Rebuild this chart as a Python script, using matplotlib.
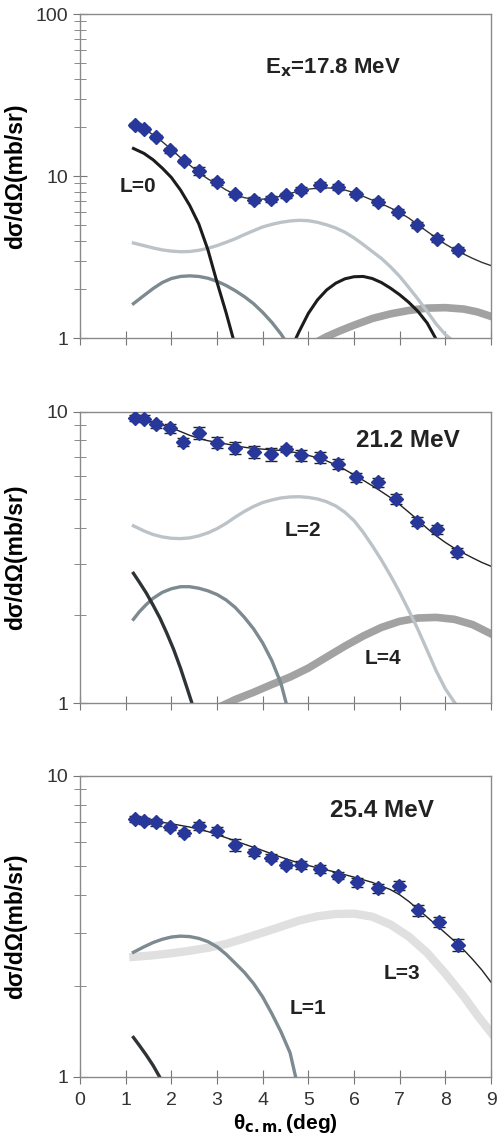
import matplotlib.pyplot as plt
from matplotlib.ticker import NullFormatter

plt.rcParams['font.family'] = ['Liberation Sans', 'DejaVu Sans']

# ---- panel 1: Ex = 17.8 MeV ----
p1_theta = [1.20, 1.40, 1.66, 1.97, 2.28, 2.61, 3.01, 3.40, 3.80, 4.19,
            4.50, 4.84, 5.26, 5.66, 6.04, 6.52, 6.96, 7.37, 7.81, 8.27]
p1_xs = [20.6, 19.6, 17.5, 14.4, 12.4, 10.8, 9.2, 7.7, 7.1, 7.26,
         7.6, 8.2, 8.8, 8.6, 7.7, 6.9, 6.0, 5.0, 4.1, 3.5]
p1_err = [0.6, 0.6, 0.5, 0.5, 0.4, 0.6, 0.4, 0.3, 0.3, 0.3,
          0.3, 0.3, 0.35, 0.35, 0.3, 0.3, 0.25, 0.2, 0.2, 0.15]
p1_fit_x = [1.2, 1.4, 1.6, 1.8, 2.0, 2.2, 2.4, 2.6, 2.8, 3.0, 3.2, 3.4, 3.6, 3.8,
            4.0, 4.2, 4.4, 4.6, 4.8, 5.0, 5.2, 5.4, 5.6, 5.8, 6.0, 6.2, 6.4,
            6.6, 6.8, 7.0, 7.2, 7.4, 7.6, 7.8, 8.0, 8.2, 8.4, 8.6, 8.8, 9.0]
p1_fit_y = [20.5, 19.5, 18.0, 16.3, 14.6, 13.0, 11.7, 10.5, 9.6, 8.9, 8.2, 7.7, 7.35, 7.2,
            7.2, 7.3, 7.5, 7.8, 8.1, 8.3, 8.42, 8.45, 8.4, 8.2, 7.9, 7.5, 7.1,
            6.75, 6.35, 5.95, 5.5, 5.0, 4.55, 4.15, 3.8, 3.52, 3.3, 3.1, 2.93, 2.8]
p1_L0a_x = [1.17, 1.4, 1.6, 1.8, 2.0, 2.2, 2.4, 2.6, 2.8, 3.0, 3.2, 3.36]
p1_L0a_y = [14.8, 13.8, 12.6, 11.2, 9.8, 8.2, 6.6, 5.07, 3.51, 2.21, 1.43, 0.98]
p1_L0b_x = [4.67, 4.8, 5.0, 5.2, 5.4, 5.6, 5.8, 6.0, 6.2, 6.4, 6.6, 6.8,
            7.0, 7.2, 7.4, 7.6, 7.81]
p1_L0b_y = [0.92, 1.1, 1.42, 1.72, 1.98, 2.18, 2.32, 2.39, 2.40, 2.33, 2.20, 2.03,
            1.85, 1.66, 1.46, 1.24, 0.97]
p1_L1_x = [1.17, 1.4, 1.6, 1.8, 2.0, 2.2, 2.4, 2.6, 2.8, 3.0, 3.2, 3.4,
           3.6, 3.8, 4.0, 4.2, 4.4, 4.53]
p1_L1_y = [1.63, 1.83, 2.02, 2.20, 2.33, 2.40, 2.42, 2.40, 2.34, 2.24, 2.11, 1.96,
           1.80, 1.63, 1.44, 1.25, 1.06, 0.93]
p1_L2_x = [1.17, 1.4, 1.6, 1.8, 2.0, 2.2, 2.4, 2.6, 2.8, 3.0, 3.2, 3.4, 3.6, 3.8,
           4.0, 4.2, 4.4, 4.6, 4.8, 5.0, 5.2, 5.4, 5.6, 5.8, 6.0, 6.2, 6.4,
           6.6, 6.8, 7.0, 7.2, 7.4, 7.6, 7.8, 8.0, 8.25]
p1_L2_y = [3.86, 3.72, 3.60, 3.50, 3.44, 3.41, 3.42, 3.48, 3.58, 3.72, 3.90, 4.10, 4.35, 4.6,
           4.85, 5.03, 5.18, 5.28, 5.33, 5.30, 5.18, 5.0, 4.78, 4.50, 4.15, 3.78, 3.42,
           3.10, 2.75, 2.40, 2.05, 1.74, 1.46, 1.22, 1.05, 0.92]
p1_L4_x = [5.11, 5.4, 5.7, 6.0, 6.4, 6.8, 7.2, 7.6, 8.0, 8.4, 8.7, 9.0]
p1_L4_y = [0.92, 1.02, 1.11, 1.20, 1.32, 1.41, 1.48, 1.53, 1.54, 1.51, 1.45, 1.36]

# ---- panel 2: 21.2 MeV ----
p2_theta = [1.20, 1.40, 1.66, 1.97, 2.26, 2.61, 3.01, 3.40, 3.80, 4.19,
            4.50, 4.84, 5.26, 5.66, 6.04, 6.52, 6.93, 7.37, 7.81, 8.25]
p2_xs = [9.53, 9.46, 9.07, 8.77, 7.89, 8.43, 7.83, 7.53, 7.29, 7.14,
         7.45, 7.10, 6.97, 6.62, 5.96, 5.72, 5.01, 4.20, 3.95, 3.29]
p2_err = [0.25, 0.25, 0.25, 0.3, 0.25, 0.4, 0.35, 0.35, 0.35, 0.35,
          0.2, 0.3, 0.3, 0.25, 0.2, 0.2, 0.2, 0.15, 0.15, 0.12]
p2_fit_x = [1.2, 1.4, 1.6, 1.8, 2.0, 2.2, 2.4, 2.6, 2.8, 3.0, 3.2, 3.4, 3.6, 3.8,
            4.0, 4.2, 4.4, 4.6, 4.8, 5.0, 5.2, 5.4, 5.6, 5.8, 6.0, 6.2, 6.4,
            6.6, 6.8, 7.0, 7.2, 7.4, 7.6, 7.8, 8.0, 8.2, 8.4, 8.6, 8.8, 9.0]
p2_fit_y = [9.5, 9.4, 9.2, 9.0, 8.8, 8.55, 8.3, 8.1, 7.95, 7.85, 7.75, 7.65, 7.55, 7.48,
            7.44, 7.40, 7.36, 7.30, 7.2, 7.08, 6.95, 6.78, 6.57, 6.33, 6.07, 5.82, 5.57,
            5.32, 5.07, 4.8, 4.52, 4.25, 3.98, 3.75, 3.56, 3.40, 3.27, 3.15, 3.04, 2.95]
p2_L0_x = [1.17, 1.3, 1.45, 1.6, 1.75, 1.9, 2.05, 2.2, 2.35, 2.47]
p2_L0_y = [2.79, 2.60, 2.39, 2.17, 1.96, 1.74, 1.53, 1.32, 1.12, 0.98]
p2_L1_x = [1.17, 1.3, 1.45, 1.6, 1.8, 2.0, 2.2, 2.4, 2.6, 2.8, 3.0, 3.2,
           3.4, 3.6, 3.8, 4.0, 4.2, 4.4, 4.53]
p2_L1_y = [1.94, 2.06, 2.18, 2.29, 2.40, 2.47, 2.51, 2.51, 2.48, 2.43, 2.36, 2.26,
           2.13, 1.97, 1.80, 1.61, 1.40, 1.17, 0.98]
p2_L2_x = [1.17, 1.4, 1.6, 1.8, 2.0, 2.2, 2.4, 2.6, 2.8, 3.0, 3.2, 3.4, 3.6, 3.8,
           4.0, 4.2, 4.4, 4.6, 4.8, 5.0, 5.2, 5.4, 5.6, 5.8, 6.0, 6.2, 6.4,
           6.6, 6.8, 7.0, 7.2, 7.4, 7.6, 7.8, 8.0, 8.25]
p2_L2_y = [4.06, 3.90, 3.79, 3.72, 3.68, 3.67, 3.69, 3.75, 3.84, 3.97, 4.14, 4.35, 4.55, 4.73,
           4.88, 4.98, 5.06, 5.10, 5.11, 5.08, 5.02, 4.91, 4.75, 4.52, 4.23, 3.86, 3.47,
           3.10, 2.74, 2.40, 2.08, 1.79, 1.52, 1.29, 1.12, 0.98]
p2_L4_x = [2.99, 3.4, 3.8, 4.2, 4.6, 5.0, 5.4, 5.8, 6.2, 6.6, 7.0, 7.4, 7.8, 8.2, 8.6, 9.0]
p2_L4_y = [0.96, 1.03, 1.09, 1.16, 1.23, 1.32, 1.44, 1.57, 1.70, 1.82, 1.91, 1.96,
           1.97, 1.94, 1.86, 1.73]

# ---- panel 3: 25.4 MeV ----
p3_theta = [1.20, 1.40, 1.66, 1.97, 2.28, 2.61, 3.01, 3.40, 3.80, 4.19,
            4.50, 4.84, 5.26, 5.66, 6.07, 6.53, 6.99, 7.41, 7.85, 8.28]
p3_xs = [7.18, 7.07, 7.00, 6.73, 6.43, 6.82, 6.55, 5.89, 5.56, 5.34,
         5.05, 5.05, 4.90, 4.65, 4.43, 4.22, 4.31, 3.58, 3.27, 2.74]
p3_err = [0.15, 0.15, 0.2, 0.15, 0.15, 0.2, 0.2, 0.25, 0.15, 0.15,
          0.12, 0.15, 0.15, 0.12, 0.15, 0.15, 0.15, 0.15, 0.12, 0.12]
p3_fit_x = [1.2, 1.6, 2.0, 2.4, 2.8, 3.2, 3.6, 4.0, 4.4, 4.8, 5.2, 5.6, 6.0, 6.4,
            6.8, 7.0, 7.2, 7.4, 7.6, 7.8, 8.0, 8.2, 8.4, 8.6, 8.8, 9.0]
p3_fit_y = [7.2, 7.08, 6.92, 6.75, 6.52, 6.22, 5.92, 5.64, 5.36, 5.12, 4.94, 4.78, 4.6, 4.42,
            4.18, 4.02, 3.82, 3.60, 3.39, 3.19, 3.00, 2.82, 2.64, 2.45, 2.26, 2.06]
p3_L0_x = [1.17, 1.3, 1.45, 1.6, 1.79]
p3_L0_y = [1.35, 1.27, 1.18, 1.09, 0.97]
p3_L1_x = [1.17, 1.4, 1.6, 1.8, 2.0, 2.2, 2.4, 2.6, 2.8, 3.0, 3.2, 3.4,
           3.6, 3.8, 4.0, 4.2, 4.4, 4.6, 4.74]
p3_L1_y = [2.59, 2.70, 2.79, 2.86, 2.91, 2.93, 2.92, 2.88, 2.81, 2.70, 2.55, 2.38,
           2.22, 2.04, 1.84, 1.62, 1.41, 1.20, 0.97]
p3_L3_x = [1.17, 1.6, 2.0, 2.4, 2.8, 3.2, 3.6, 4.0, 4.4, 4.8, 5.2, 5.6, 6.0, 6.4,
           6.8, 7.2, 7.6, 8.0, 8.4, 8.7, 9.0]
p3_L3_y = [2.50, 2.53, 2.57, 2.62, 2.68, 2.76, 2.88, 3.01, 3.15, 3.30, 3.41, 3.47, 3.48, 3.40,
           3.20, 2.92, 2.58, 2.20, 1.85, 1.60, 1.40]

c_L0 = '#1c1c1c'
c_L1 = '#7d8a90'
c_L2 = '#bcc3c8'
c_L4 = '#a2a2a2'
c_L3 = '#e0e0e0'
c_pt = '#27379a'


def style_axis(ax, ymax, show_x):
    ax.set_yscale('log')
    ax.set_xlim(0, 9)
    ax.set_ylim(1, ymax)
    for s in ax.spines.values():
        s.set_color('#8a8a8a')
        s.set_linewidth(1.0)
    ax.set_xticks(range(10))
    ax.tick_params(axis='both', which='both', direction='inout', color='#777777',
                   labelcolor='#333333', labelsize=14)
    ax.tick_params(axis='x', length=10, pad=6)
    ax.tick_params(axis='y', which='major', length=10)
    ax.tick_params(axis='y', which='minor', length=9)
    ticks = [1, 10, 100] if ymax > 10 else [1, 10]
    ax.set_yticks(ticks)
    ax.set_yticklabels([str(t) for t in ticks])
    ax.yaxis.set_minor_formatter(NullFormatter())
    ax.set_ylabel('d\u03c3/d\u03a9(mb/sr)', fontsize=16.5, fontweight='bold')
    ax.yaxis.set_label_coords(-0.128, 0.5)
    if not show_x:
        ax.set_xticklabels([])


def data_pts(ax, x, y, e):
    ax.errorbar(x, y, yerr=e, fmt='D', color=c_pt, ms=7, mec=c_pt,
                ecolor='#222222', elinewidth=1, capsize=4, capthick=1, zorder=5)


fig = plt.figure(figsize=(5.01, 11.42), dpi=100)
ax1 = fig.add_axes([0.1597, 0.7040, 0.8204, 0.2837])
ax2 = fig.add_axes([0.1597, 0.3842, 0.8204, 0.2553])
ax3 = fig.add_axes([0.1597, 0.0572, 0.8204, 0.2636])

# panel 1
ax1.plot(p1_L4_x, p1_L4_y, color=c_L4, lw=5.5)
ax1.plot(p1_L2_x, p1_L2_y, color=c_L2, lw=2.4)
ax1.plot(p1_L1_x, p1_L1_y, color=c_L1, lw=2.4)
ax1.plot(p1_L0a_x, p1_L0a_y, color=c_L0, lw=2.2)
ax1.plot(p1_L0b_x, p1_L0b_y, color=c_L0, lw=2.2)
ax1.plot(p1_fit_x, p1_fit_y, color='#333333', lw=1.0)
data_pts(ax1, p1_theta, p1_xs, p1_err)
style_axis(ax1, 100, False)
ax1.text(0.616, 0.833, 'E$_\\mathbf{x}$=17.8 MeV', transform=ax1.transAxes,
         ha='center', va='center', fontsize=16, fontweight='bold', color='#222222')
ax1.text(0.141, 0.469, 'L=0', transform=ax1.transAxes, ha='center', va='center',
         fontsize=15, fontweight='bold', color='#222222')

# panel 2
ax2.plot(p2_L4_x, p2_L4_y, color=c_L4, lw=5.5)
ax2.plot(p2_L2_x, p2_L2_y, color=c_L2, lw=2.4)
ax2.plot(p2_L1_x, p2_L1_y, color=c_L1, lw=2.4)
ax2.plot(p2_L0_x, p2_L0_y, color='#2e3436', lw=2.4)
ax2.plot(p2_fit_x, p2_fit_y, color='#222222', lw=1.0)
data_pts(ax2, p2_theta, p2_xs, p2_err)
style_axis(ax2, 10, False)
ax2.text(0.798, 0.900, '21.2 MeV', transform=ax2.transAxes, ha='center', va='center',
         fontsize=17.5, fontweight='bold', color='#222222')
ax2.text(0.543, 0.591, 'L=2', transform=ax2.transAxes, ha='center', va='center',
         fontsize=15, fontweight='bold', color='#222222')
ax2.text(0.737, 0.152, 'L=4', transform=ax2.transAxes, ha='center', va='center',
         fontsize=15, fontweight='bold', color='#222222')

# panel 3
ax3.plot(p3_L3_x, p3_L3_y, color=c_L3, lw=6)
ax3.plot(p3_L1_x, p3_L1_y, color=c_L1, lw=2.4)
ax3.plot(p3_L0_x, p3_L0_y, color='#2e3436', lw=2.4)
ax3.plot(p3_fit_x, p3_fit_y, color='#222222', lw=1.0)
data_pts(ax3, p3_theta, p3_xs, p3_err)
style_axis(ax3, 10, True)
ax3.set_xlabel('\u03b8$_\\mathbf{c.m.}$(deg)', fontsize=15, fontweight='bold', labelpad=2)
ax3.text(0.735, 0.883, '25.4 MeV', transform=ax3.transAxes, ha='center', va='center',
         fontsize=17.5, fontweight='bold', color='#222222')
ax3.text(0.783, 0.344, 'L=3', transform=ax3.transAxes, ha='center', va='center',
         fontsize=15, fontweight='bold', color='#222222')
ax3.text(0.555, 0.225, 'L=1', transform=ax3.transAxes, ha='center', va='center',
         fontsize=15, fontweight='bold', color='#222222')

fig.savefig('out.png', dpi=100)
